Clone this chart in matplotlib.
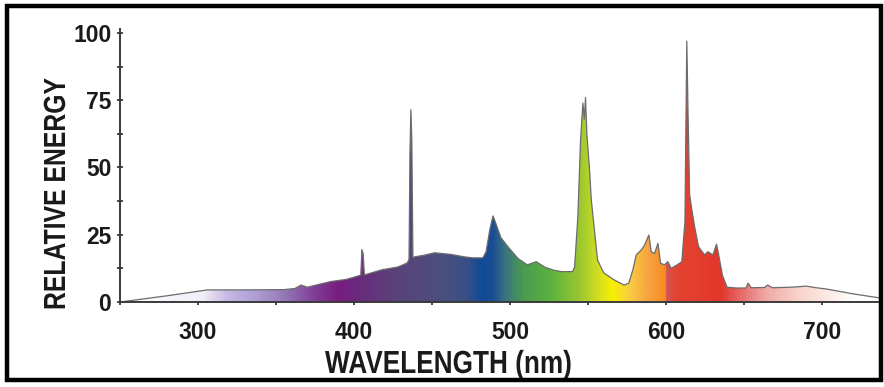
import numpy as np
import matplotlib.pyplot as plt
from matplotlib import patheffects
from matplotlib.colors import LinearSegmentedColormap
from matplotlib.patches import Rectangle, PathPatch
from matplotlib.path import Path
from matplotlib.transforms import Affine2D
from matplotlib.ticker import MultipleLocator

# spectrum (nm, relative energy)
wavelength = [250, 280, 306, 330, 355, 362, 366, 370, 385, 395, 401, 404.3, 405.0, 405.8, 406.6,
              408, 418, 428, 434, 435.2, 435.8, 436.4, 437.0, 437.7, 439, 445, 451.5, 462,
              470.5, 476, 482.5, 484.6, 487, 489, 491, 494, 498.5, 505, 511, 516.7, 522, 528,
              533, 540, 541.3, 543.4, 545.1, 546.6, 547.5, 548.3, 549.2, 550.8, 552, 554,
              556, 560, 566.7, 573, 576, 578.6, 580.8, 584, 586, 588.9, 590.4, 592.5, 594.7,
              596.4, 598.9, 601, 603.2, 607, 610, 612, 613.2, 614, 615, 616.5, 618.6, 620.7,
              624.6, 626.7, 630, 632.2, 633.5, 636, 639, 645, 651, 652.5, 654.5, 663, 665,
              668, 680, 690, 695, 703, 720, 737]
energy = [0, 2.3, 4.5, 4.5, 4.6, 5.0, 6.3, 5.5, 7.6, 8.4, 9.4, 10, 19.5, 18, 10,
          10.3, 12, 13, 14.5, 15.8, 55, 71.5, 60, 16.5, 16.8, 17.4, 18.3, 17.7,
          16.8, 16.4, 16.4, 18.7, 27, 32, 29, 24, 20.6, 16.2, 13.8, 15, 13, 11.8,
          11.3, 11.3, 13, 31.7, 60, 74, 68, 76, 62, 50, 38, 26.8,
          15.6, 10.8, 8.2, 6.3, 7, 11.9, 17.5, 19.3, 21, 24.9, 18.7, 18, 21.8,
          14.4, 13.8, 15, 12.5, 13.8, 15, 30, 97, 70, 40, 34, 26.8, 20.6,
          17.5, 18.7, 17.5, 21.5, 18, 10, 5.5, 5.2, 5.2, 7, 5.3, 5.4, 6.3,
          5.3, 5.5, 5.9, 5.4, 4.8, 3.0, 1.5]

# colour stops along the wavelength axis
stop_nm = [250, 302, 318, 335, 355, 375, 390, 402, 425, 455, 472, 482, 489, 497, 508,
           525, 545, 558, 566, 576, 590, 599.5, 601.5, 606, 636, 642, 652, 665, 685, 705,
           722, 737]
stop_col = ['#ffffff', '#f2eef8', '#c8b8e4', '#b0a0d6', '#9478b6', '#7e3c94', '#781c80',
            '#6a2a7c', '#5a427a', '#4c4e7e', '#3a5086', '#0e4a98', '#1c4e94', '#3a7480',
            '#4a9a50', '#5ab040', '#9ac830', '#d8e020', '#f8f000', '#f8d040', '#f8a040',
            '#f88c20', '#d05454', '#e44432', '#e2362a', '#e45048', '#e87878', '#f0aaa4',
            '#f8d2ca', '#fbeae4', '#ffffff', '#ffffff']

xmin, xmax = 250, 737
ytop = 101.5


class Squeeze(patheffects.AbstractPathEffect):
    """draw text narrower along its own baseline (condensed look)"""
    def __init__(self, sx):
        super().__init__()
        self.sx = sx

    def draw_path(self, renderer, gc, tpath, affine, rgbFace=None):
        renderer.draw_path(gc, tpath, Affine2D().scale(self.sx, 1) + affine, rgbFace)


fig = plt.figure(figsize=(8.84, 3.87), dpi=100)
ax = fig.add_axes([120 / 884, 85 / 387, 760 / 884, 269 * ytop / 100 / 387])

pos = [(w - xmin) / (xmax - xmin) for w in stop_nm]
cmap = LinearSegmentedColormap.from_list('spectrum', list(zip(pos, stop_col)))

verts = [(xmin, 0)] + list(zip(wavelength, energy)) + [(xmax, 0)]
shape = PathPatch(Path(verts), facecolor='none', edgecolor='none', transform=ax.transData)
ax.add_patch(shape)
img = ax.imshow(np.linspace(0, 1, 1200)[None, :], cmap=cmap, aspect='auto',
                extent=(xmin, xmax, 0, ytop), origin='lower', interpolation='bilinear', zorder=1)
img.set_clip_path(shape)
ax.plot(wavelength, energy, color='#6c6c6c', lw=0.9, zorder=2)

ax.set_xlim(xmin, xmax)
ax.set_ylim(0, ytop)
for s in ['top', 'right']:
    ax.spines[s].set_visible(False)
for s in ['left', 'bottom']:
    ax.spines[s].set_color('#3a3a3a')
    ax.spines[s].set_linewidth(1.4)
    ax.spines[s].set_zorder(3)

ax.set_xticks([300, 400, 500, 600, 700])
ax.xaxis.set_minor_locator(MultipleLocator(50))
ax.set_yticks([0, 25, 50, 75, 100])
ax.yaxis.set_minor_locator(MultipleLocator(12.5))
ax.tick_params(axis='y', which='both', direction='inout', length=4.5, width=1.3,
               color='#3a3a3a', pad=4)
ax.tick_params(axis='x', which='both', direction='out', length=2.5, width=1.3,
               color='#3a3a3a', pad=11)
for lab in ax.get_xticklabels() + ax.get_yticklabels():
    lab.set_family(['Liberation Sans', 'DejaVu Sans'])
    lab.set_fontweight('bold')
    lab.set_fontsize(16.5)
    lab.set_color('#1a1a1a')

lbl_font = dict(family=['Liberation Sans', 'DejaVu Sans'], fontweight='bold', color='#1a1a1a')
fig.text(325 / 884, 1 - 373 / 387, 'WAVELENGTH (nm)', ha='left', va='baseline',
         fontsize=23, path_effects=[Squeeze(0.82)], **lbl_font)
fig.text(65 / 884, 1 - 310 / 387, 'RELATIVE ENERGY', ha='left', va='baseline',
         rotation=90, rotation_mode='anchor', fontsize=22,
         path_effects=[Squeeze(0.81)], **lbl_font)

fig.patches.append(Rectangle((6.7 / 884, 1 - 379.5 / 387), 873.8 / 884, 373.5 / 387,
                             transform=fig.transFigure, fill=False, edgecolor='black',
                             lw=3.2, zorder=10))

fig.savefig('out.png', dpi=100)
